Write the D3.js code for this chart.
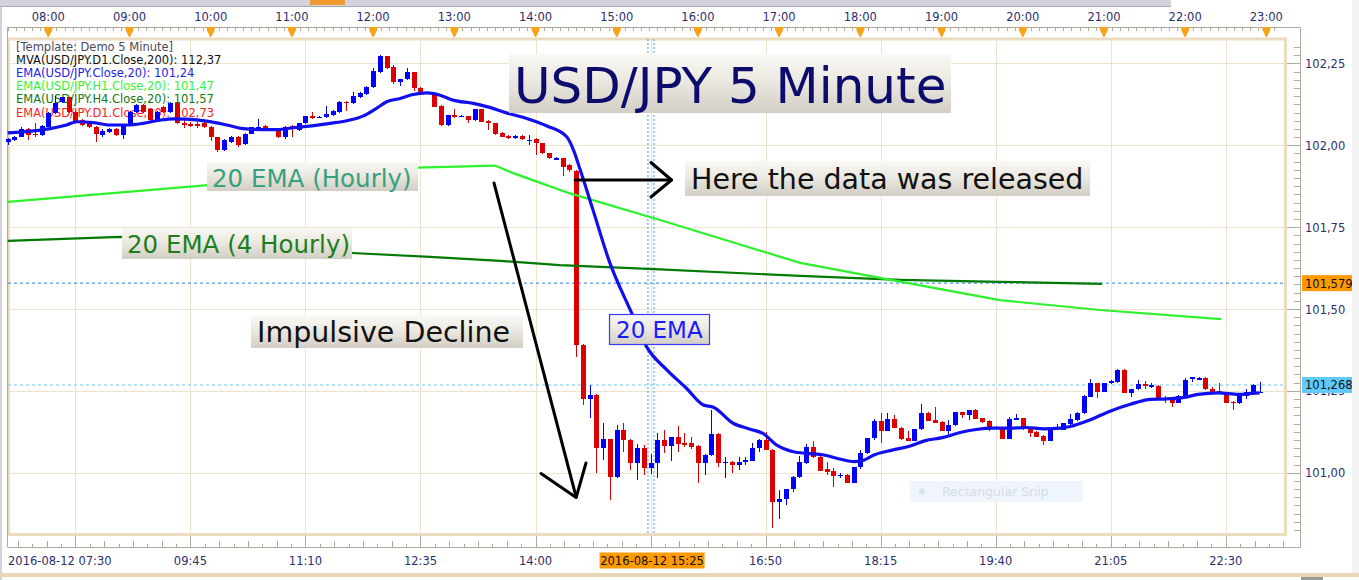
<!DOCTYPE html>
<html><head><meta charset="utf-8">
<script src="https://cdn.jsdelivr.net/npm/d3@7"></script>
<style>body{margin:0;background:#fff;overflow:hidden}svg{display:block}text{font-family:"DejaVu Sans",Verdana,sans-serif}</style>
</head><body>
<svg id="c" width="1359" height="580"></svg>
<script>
// ---- DATA (USD/JPY 5-minute bars, 2016-08-12 07:30 .. 22:55) ----
const opens = [102.011,102.016,102.026,102.051,102.036,102.031,102.057,102.099,102.133,102.146,102.102,102.077,102.072,102.055,102.031,102.041,102.051,102.031,102.062,102.102,
102.123,102.112,102.077,102.118,102.102,102.128,102.067,102.065,102.064,102.067,102.055,102.024,101.985,102.011,102.026,102.004,102.036,102.054,102.059,102.049,
102.046,102.024,102.059,102.046,102.067,102.089,102.085,102.085,102.092,102.102,102.133,102.130,102.148,102.156,102.177,102.224,102.272,102.240,102.194,102.201,
102.223,102.174,102.162,102.153,102.120,102.062,102.092,102.088,102.089,102.077,102.110,102.074,102.067,102.038,102.029,102.021,102.029,102.015,102.019,102.006,
101.975,101.959,101.960,101.940,101.920,101.390,101.224,101.237,101.076,101.102,100.988,101.131,101.100,101.031,101.075,101.013,101.031,101.100,101.082,101.108,
101.090,101.092,101.082,101.029,101.054,101.118,101.032,101.033,101.023,101.036,101.037,101.075,101.100,101.070,100.912,100.919,100.949,100.986,101.030,101.077,
101.049,101.010,101.005,100.991,100.993,100.970,101.016,101.059,101.105,101.158,101.128,101.163,101.138,101.106,101.098,101.133,101.183,101.161,101.155,101.128,
101.145,101.184,101.176,101.191,101.166,101.158,101.141,101.136,101.104,101.164,101.166,101.132,101.125,101.112,101.098,101.135,101.131,101.149,101.161,101.181,
101.232,101.273,101.248,101.273,101.278,101.314,101.244,101.255,101.271,101.265,101.265,101.229,101.222,101.214,101.232,101.286,101.285,101.289,101.255,101.249,
101.245,101.217,101.212,101.235,101.245,101.246];
const highs = [102.021,102.028,102.057,102.054,102.067,102.062,102.101,102.150,102.148,102.149,102.106,102.080,102.075,102.058,102.051,102.054,102.053,102.065,102.105,102.126,
102.125,102.115,102.105,102.121,102.131,102.131,102.077,102.072,102.070,102.070,102.058,102.026,102.018,102.028,102.029,102.038,102.057,102.079,102.062,102.053,
102.049,102.060,102.062,102.069,102.091,102.102,102.090,102.120,102.108,102.136,102.136,102.163,102.162,102.181,102.235,102.275,102.274,102.245,102.203,102.235,
102.225,102.179,102.164,102.156,102.122,102.094,102.112,102.094,102.091,102.112,102.112,102.076,102.069,102.040,102.031,102.031,102.031,102.031,102.021,102.008,
101.977,101.963,101.962,101.942,101.925,101.392,101.268,101.239,101.151,101.104,101.146,101.153,101.102,101.088,101.085,101.057,101.120,101.131,101.110,101.143,
101.120,101.108,101.084,101.056,101.191,101.120,101.049,101.035,101.049,101.048,101.090,101.102,101.125,101.072,100.947,100.951,100.990,101.051,101.088,101.098,
101.051,101.034,101.013,100.999,100.995,101.018,101.069,101.107,101.163,101.181,101.181,101.176,101.140,101.127,101.135,101.210,101.185,101.200,101.157,101.161,
101.186,101.186,101.193,101.194,101.168,101.160,101.144,101.138,101.171,101.179,101.168,101.134,101.127,101.114,101.138,101.148,101.153,101.179,101.185,101.236,
101.286,101.275,101.275,101.282,101.316,101.316,101.257,101.283,101.280,101.275,101.267,101.234,101.224,101.236,101.288,101.292,101.291,101.291,101.261,101.273,
101.247,101.219,101.237,101.255,101.271,101.276];
const lows = [102.001,102.012,102.024,102.016,102.026,102.029,102.055,102.096,102.128,102.100,102.070,102.060,102.052,102.011,102.026,102.038,102.028,102.018,102.060,102.100,
102.099,102.074,102.075,102.100,102.099,102.064,102.054,102.055,102.054,102.052,102.014,101.980,101.982,102.008,101.994,102.001,102.034,102.044,102.049,102.044,
102.021,102.020,102.026,102.043,102.064,102.079,102.082,102.082,102.090,102.100,102.105,102.127,102.145,102.154,102.175,102.222,102.232,102.187,102.181,102.199,
102.166,102.161,102.158,102.116,102.058,102.060,102.083,102.085,102.069,102.075,102.070,102.046,102.032,102.024,102.019,102.019,102.016,102.001,101.970,101.973,
101.958,101.956,101.906,101.919,101.354,101.207,101.166,100.998,101.039,100.917,100.983,101.064,101.008,100.978,100.993,100.996,100.983,101.061,101.037,101.064,
101.080,101.072,100.968,100.993,101.052,101.016,100.983,100.998,101.008,101.022,101.035,101.062,101.068,100.830,100.858,100.900,100.940,100.984,101.028,101.044,
101.004,100.993,100.957,100.983,100.968,100.968,101.010,101.057,101.100,101.092,101.126,101.136,101.100,101.096,101.096,101.131,101.157,101.151,101.126,101.118,
101.143,101.166,101.161,101.163,101.153,101.127,101.137,101.102,101.102,101.162,101.131,101.110,101.108,101.086,101.096,101.131,101.129,101.147,101.159,101.179,
101.230,101.229,101.246,101.271,101.273,101.242,101.230,101.253,101.255,101.258,101.227,101.214,101.200,101.212,101.230,101.278,101.283,101.253,101.246,101.243,
101.212,101.190,101.210,101.224,101.243,101.244];
const closes = [102.018,102.026,102.051,102.031,102.031,102.059,102.099,102.130,102.146,102.102,102.072,102.062,102.055,102.033,102.044,102.051,102.031,102.062,102.102,102.123,
102.102,102.077,102.102,102.102,102.128,102.067,102.065,102.063,102.062,102.055,102.024,101.985,102.016,102.026,102.001,102.036,102.055,102.056,102.051,102.048,
102.024,102.057,102.051,102.067,102.089,102.082,102.087,102.095,102.105,102.133,102.131,102.150,102.160,102.179,102.227,102.272,102.235,102.194,102.201,102.223,
102.174,102.163,102.161,102.118,102.062,102.092,102.085,102.090,102.077,102.110,102.072,102.067,102.034,102.026,102.021,102.029,102.018,102.017,102.006,101.975,
101.960,101.961,101.935,101.925,101.390,101.224,101.237,101.076,101.102,100.988,101.131,101.100,101.031,101.075,101.013,101.031,101.100,101.082,101.108,101.088,
101.088,101.080,101.029,101.054,101.118,101.029,101.034,101.023,101.033,101.038,101.075,101.100,101.070,100.912,100.919,100.949,100.988,101.034,101.077,101.049,
101.006,101.003,100.991,100.993,100.970,101.016,101.059,101.105,101.158,101.128,101.163,101.138,101.103,101.098,101.133,101.183,101.159,101.153,101.128,101.146,
101.184,101.176,101.191,101.165,101.156,101.141,101.140,101.104,101.163,101.166,101.141,101.122,101.110,101.098,101.136,101.139,101.151,101.164,101.183,101.234,
101.273,101.248,101.273,101.280,101.314,101.244,101.255,101.271,101.265,101.267,101.229,101.222,101.214,101.234,101.283,101.291,101.289,101.255,101.248,101.245,
101.214,101.212,101.235,101.245,101.268,101.248];

// EMA(20) on the 5-minute closes (bar index, price)
const emaIdx = [0,3.8,6.3,8.7,10.2,12.7,15.1,17.6,20,22.5,24.5,26.4,29.4,32.4,34.8,37.3,39.8,42.7,45.2,47.6,50.1,52.5,54.5,56,58,59.9,61.9,63.9,65.8,68.8,70.8,73.7,76.7,79.7,82.6,83.6,84.6,86.5,89,92,94.4,97.4,100.3,102.8,104.3,107.2,109.7,111.6,113.6,116.1,118.1,120.6,123.1,125.1,126.6,128,130.7,133.1,135.6,138.1,140.6,143.1,145.6,148.1,150.6,153.1,155.5,157,159.9,162.9,165.9,168.9,170.9,173.9,175.9,178.9,181.9,183.8,185];
const emaVal = [102.038,102.044,102.051,102.062,102.072,102.069,102.062,102.062,102.067,102.077,102.081,102.080,102.074,102.062,102.051,102.048,102.048,102.055,102.060,102.067,102.075,102.089,102.113,102.133,102.143,102.155,102.160,102.153,102.138,102.128,102.118,102.099,102.082,102.059,102.026,101.986,101.925,101.802,101.640,101.497,101.385,101.314,101.258,101.207,101.200,101.151,101.133,101.120,101.085,101.064,101.059,101.054,101.041,101.034,101.039,101.054,101.069,101.080,101.098,101.107,101.122,101.132,101.136,101.136,101.138,101.134,101.136,101.141,101.161,101.188,101.209,101.224,101.225,101.230,101.239,101.244,101.239,101.242,101.244];
// EMA(20) hourly
const h1Idx = [0,60.6,72,74.7,78.2,83.1,96.4,117.1,128.9,146.6,161.4,179.3];
const h1Val = [101.827,101.932,101.938,101.915,101.889,101.853,101.772,101.641,101.595,101.527,101.497,101.469];
// EMA(20) 4-hourly
const h4Idx = [0,16.6,50.9,62.4,72.8,81.6,96.4,117.1,131.9,146.6,161.7];
const h4Val = [101.708,101.720,101.671,101.659,101.647,101.634,101.621,101.601,101.589,101.583,101.577];

const priceTicks = [101.00,101.25,101.50,101.75,102.00,102.25];
const hourTicks = [8,9,10,11,12,13,14,15,16,17,18,19,20,21,22,23];
const dateMajorIdx = [10,27,44,61,78,95,112,129,146,163,180];
const legendLines = ["[Template: Demo 5 Minute]","MVA(USD/JPY.D1.Close,200): 112,37","EMA(USD/JPY.Close,20): 101,24","EMA(USD/JPY.H1.Close,20): 101,47","EMA(USD/JPY.H4.Close,20): 101,57","EMA(USD/JPY.D1.Close,20): 102,73"];
const legendColors = ["#4a4a5c","#111111","#2222ee","#33f533","#137813","#ff2222"];
const lastH4 = 101.579, lastPrice = 101.268, crossIdx = 95;

// ---- SCALES ----
const x = d3.scaleLinear().domain([0,185]).range([7.7, 7.7+185*6.767]);
const y = d3.scaleLinear().domain([101,102.25]).range([472.7, 63.45]);
const BLUE="#0000ff", RED="#dd0000", AX="#2e2e6c";
const plotL=8, plotR=1285, plotT=39, plotB=534.5, axisX=1300, topAxisY=27, botAxisY=547;

const svg = d3.select("#c");
const defs = svg.append("defs");
const gr = defs.append("linearGradient").attr("id","lbl").attr("x1",0).attr("y1",0).attr("x2",0).attr("y2",1);
gr.append("stop").attr("offset",0).attr("stop-color","#faf8f4");
gr.append("stop").attr("offset",0.45).attr("stop-color","#ece9e2");
gr.append("stop").attr("offset",1).attr("stop-color","#d2cec5");

// chrome
svg.append("rect").attr("width",1359).attr("height",580).attr("fill","#fff");
svg.append("rect").attr("x",0).attr("y",0).attr("width",1171).attr("height",6).attr("fill","#d3d3db");
svg.append("line").attr("x1",0).attr("x2",1171).attr("y1",6.5).attr("y2",6.5).attr("stroke","#a8a8b4");
svg.append("rect").attr("x",310).attr("y",0).attr("width",35).attr("height",5).attr("fill","#f39a2e");
svg.append("rect").attr("x",0).attr("y",7).attr("width",2).attr("height",573).attr("fill","#d2d2da");
svg.append("rect").attr("x",1352).attr("y",0).attr("width",7).attr("height",573).attr("fill","#f3f3f3");
svg.append("rect").attr("x",0).attr("y",573).attr("width",1359).attr("height",4).attr("fill","#e8d7b6");
svg.append("rect").attr("x",1301).attr("y",577).attr("width",22).attr("height",3).attr("fill","#9a9a9a");

// grid
const grid = svg.append("g").attr("stroke","#efe3cd").attr("stroke-width",1).attr("shape-rendering","crispEdges");
grid.selectAll("line.h").data(priceTicks).join("line").attr("x1",plotL).attr("x2",plotR).attr("y1",d=>Math.round(y(d))+0.5).attr("y2",d=>Math.round(y(d))+0.5);
grid.selectAll("line.v").data(dateMajorIdx).join("line").attr("x1",d=>Math.round(x(d))+0.5).attr("x2",d=>Math.round(x(d))+0.5).attr("y1",plotT).attr("y2",plotB);

// frame
svg.append("rect").attr("x",plotL+0.5).attr("y",plotT).attr("width",plotR-plotL).attr("height",plotB-plotT).attr("fill","none").attr("stroke","#ecdcbf").attr("stroke-width",3);
svg.append("path").attr("d",`M7.5,${botAxisY}V${topAxisY+0.5}H${axisX+0.5}V${botAxisY+0.5}H7.5`).attr("fill","none").attr("stroke","#b2ab9c").attr("stroke-width",1);

// legend
svg.append("g").selectAll("text").data(legendLines).join("text")
  .attr("x",16).attr("y",(d,i)=>51+i*13.1).attr("font-size",11.5).attr("fill",(d,i)=>legendColors[i]).text(d=>d);

// price lines
svg.append("line").attr("x1",plotL).attr("x2",plotR).attr("y1",y(lastH4)).attr("y2",y(lastH4)).attr("stroke","#2a7bdc").attr("stroke-dasharray","3,3");
svg.append("line").attr("x1",plotL).attr("x2",plotR).attr("y1",y(lastPrice)).attr("y2",y(lastPrice)).attr("stroke","#6cc8f8").attr("stroke-dasharray","3,3");
// crosshair
[-2.6,3.4].forEach(o=>svg.append("line").attr("x1",x(crossIdx)+o).attr("x2",x(crossIdx)+o).attr("y1",plotT).attr("y2",plotB)
  .attr("stroke","#3b9bff").attr("stroke-dasharray","2,2").attr("stroke-width",1));

// candles
const idx = d3.range(opens.length);
const col = i => closes[i] >= opens[i] ? BLUE : RED;
const cg = svg.append("g").attr("shape-rendering","crispEdges");
cg.selectAll("line").data(idx).join("line")
  .attr("x1",i=>Math.round(x(i))+0.5).attr("x2",i=>Math.round(x(i))+0.5)
  .attr("y1",i=>y(highs[i])).attr("y2",i=>y(lows[i])).attr("stroke",col);
cg.selectAll("rect").data(idx).join("rect")
  .attr("x",i=>Math.round(x(i))-2).attr("width",5)
  .attr("y",i=>y(Math.max(opens[i],closes[i])))
  .attr("height",i=>Math.max(1.5, Math.abs(y(opens[i])-y(closes[i])))).attr("fill",col);

// indicator lines
const ln = (I,V) => d3.line().x(d=>x(I[d])).y(d=>y(V[d]))(d3.range(I.length));
svg.append("path").attr("d",ln(h4Idx,h4Val)).attr("fill","none").attr("stroke","#007a00").attr("stroke-width",2.2);
svg.append("path").attr("d",ln(h1Idx,h1Val)).attr("fill","none").attr("stroke","#2cf22c").attr("stroke-width",2.2);
svg.append("path").attr("d",d3.line().curve(d3.curveMonotoneX).x(d=>x(emaIdx[d])).y(d=>y(emaVal[d]))(d3.range(emaIdx.length)))
  .attr("fill","none").attr("stroke","#1010ee").attr("stroke-width",3.2).attr("stroke-linejoin","round");

// annotations
function box(bx,by,bw,bh,txt,tx,ty,fs,fill,stroke){
  const g=svg.append("g");
  g.append("rect").attr("x",bx).attr("y",by).attr("width",bw).attr("height",bh).attr("fill","url(#lbl)")
   .attr("stroke",stroke||"none").attr("stroke-width",stroke?1.2:0);
  g.append("text").attr("x",tx).attr("y",ty).attr("font-size",fs).attr("fill",fill).text(txt);
}
box(509,54,442,59,"USD/JPY 5 Minute",514,103,50,"#0c0c6c");
box(685,161,405,35,"Here the data was released",691,189,28.5,"#111");
box(207,162,211,29,"20 EMA (Hourly)",212,186.5,24.5,"#36a17f");
box(122,228,230,31,"20 EMA (4 Hourly)",127,253,24.5,"#1c7f1c");
box(251,316,272,32,"Impulsive Decline",257,342,28.5,"#111");
box(609.5,314.5,100,30,"20 EMA",616,338.3,23,"#1a1aff","#3a3aff");

const ar = svg.append("g").attr("fill","none").attr("stroke","#000").attr("stroke-width",3).attr("stroke-linecap","round").attr("stroke-linejoin","round");
ar.append("line").attr("x1",x(84)-1).attr("x2",671.5).attr("y1",180).attr("y2",180);
ar.append("polyline").attr("points","651,162.5 671.5,180 651,197");
ar.append("line").attr("x1",494).attr("y1",183).attr("x2",x(84)).attr("y2",497);
ar.append("polyline").attr("points",`541,473.5 ${x(84)},497.5 586,463`);

// snip watermark
svg.append("rect").attr("x",910).attr("y",481).attr("width",173).attr("height",21).attr("fill","#eef5fd");
svg.append("circle").attr("cx",922).attr("cy",491.5).attr("r",3).attr("fill","#d9e2ec");
svg.append("text").attr("x",942).attr("y",496).attr("font-size",12.5).attr("fill","#d5dce5").text("Rectangular Snip");

// top time axis
const hx = h => x((h*60-450)/5);
const tg = svg.append("g");
const minor = d3.range(0,187.5,1.2);
tg.selectAll("line").data(minor).join("line").attr("x1",d=>Math.round(x(d))+0.5).attr("x2",d=>Math.round(x(d))+0.5)
  .attr("y1",topAxisY).attr("y2",topAxisY+4).attr("stroke","#b2ab9c").attr("shape-rendering","crispEdges");
tg.selectAll("path").data(hourTicks).join("path")
  .attr("d",h=>{const c=hx(h);return `M${c-4},${topAxisY}H${c+4}V${topAxisY+3}L${c+0.5},${topAxisY+10}L${c-0.5},${topAxisY+10}L${c-4},${topAxisY+3}Z`;})
  .attr("fill","#f7a21b");
tg.selectAll("text").data(hourTicks).join("text").attr("x",hx).attr("y",21).attr("text-anchor","middle")
  .attr("font-size",11.5).attr("fill",AX).text(h=>String(h).padStart(2,"0")+":00");

// bottom axis
const bg = svg.append("g").attr("shape-rendering","crispEdges");
const bMinor = [];
dateMajorIdx.concat([-7]).forEach(m=>{for(let k=1;k<8;k++){const v=m+k*17/8; if(v>0 && v<190) bMinor.push([v,k%2?3:6]);}});
bg.selectAll("line.mi").data(bMinor).join("line").attr("x1",d=>Math.round(x(d[0]))+0.5).attr("x2",d=>Math.round(x(d[0]))+0.5)
  .attr("y1",botAxisY).attr("y2",d=>botAxisY-d[1]).attr("stroke","#b2ab9c");
bg.selectAll("line.ma").data(dateMajorIdx).join("line").attr("x1",d=>Math.round(x(d))+0.5).attr("x2",d=>Math.round(x(d))+0.5)
  .attr("y1",botAxisY).attr("y2",botAxisY-11).attr("stroke","#b2ab9c");
const tfmt = i => {const m=450+5*i;return String(Math.floor(m/60)).padStart(2,"0")+":"+String(m%60).padStart(2,"0");};
svg.append("g").selectAll("text").data(dateMajorIdx.filter(d=>d>10 && d!==crossIdx)).join("text")
  .attr("x",x).attr("y",565).attr("text-anchor","middle").attr("font-size",11.5).attr("fill",AX).text(tfmt);
svg.append("text").attr("x",8).attr("y",565).attr("font-size",11.5).attr("fill",AX).text("2016-08-12 "+tfmt(0));
svg.append("rect").attr("x",x(crossIdx)-51).attr("y",552.5).attr("width",105).attr("height",16).attr("fill","#ff9a00");
svg.append("text").attr("x",x(crossIdx)+1.5).attr("y",565).attr("text-anchor","middle").attr("font-size",11.5).attr("fill","#111").text("2016-08-12 "+tfmt(crossIdx));

// right price axis
const rg = svg.append("g").attr("shape-rendering","crispEdges");
const pMinor = d3.range(100.825,102.326,0.025).filter(v=>y(v)>40 && y(v)<533);
rg.selectAll("line").data(pMinor).join("line").attr("x1",v=>Math.abs((v*4)-Math.round(v*4))<1e-6?axisX-13:axisX-6).attr("x2",axisX)
  .attr("y1",v=>Math.round(y(v))+0.5).attr("y2",v=>Math.round(y(v))+0.5).attr("stroke","#b2ab9c");
svg.append("g").selectAll("text").data(priceTicks).join("text").attr("x",1305).attr("y",v=>y(v)+4.5)
  .attr("font-size",11.5).attr("fill",AX).text(v=>d3.format(".2f")(v).replace(".",","));
[[lastH4,"#ff9900"],[lastPrice,"#62c9fb"]].forEach(([v,c])=>{
  svg.append("rect").attr("x",1302).attr("y",y(v)-8).attr("width",50).attr("height",16).attr("fill",c);
  svg.append("text").attr("x",1305).attr("y",y(v)+4.5).attr("font-size",11.5).attr("fill","#111").text(d3.format(".3f")(v).replace(".",","));
});
</script>
</body></html>
